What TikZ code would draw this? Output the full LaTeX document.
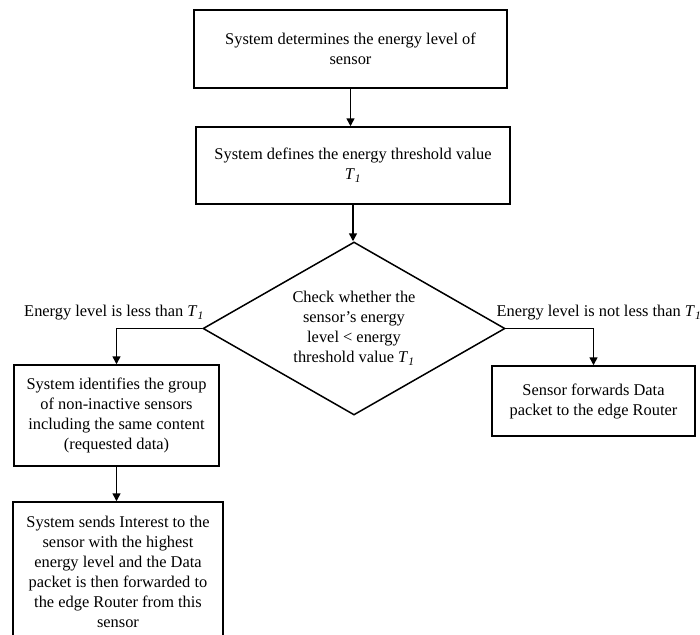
\documentclass[tikz,border=0pt]{standalone}
\usepackage{fontspec}
\setmainfont{Liberation Serif}
\usetikzlibrary{shapes.geometric,arrows.meta}
\newcommand{\Tone}{\textit{T}\textsubscript{\textit{1}}}
\tikzset{
  box/.style={draw, line width=1.5pt, rectangle, inner sep=0pt, align=center,
    font=\fontsize{16.4}{20}\selectfont},
  dec/.style={draw, line width=1.5pt, diamond, inner sep=0pt, aspect=1.75,
    align=center, font=\fontsize{16.4}{20}\selectfont},
  lab/.style={inner sep=0pt, font=\fontsize{16.4}{20}\selectfont},
  conn/.style={line width=1.5pt, -{Triangle[length=8pt,width=8pt]}}
}
\begin{document}
\begin{tikzpicture}[x=1pt,y=-1pt]
\useasboundingbox (0,0) rectangle (700,634);
\clip (0,0) rectangle (700,634);
\node[box, minimum width=313pt, minimum height=78pt] (b1) at (350.5,49)
  {System determines the energy level of\\sensor};
\node[box, minimum width=314pt, minimum height=77pt] (b2) at (353,165.5)
  {System defines the energy threshold value\\\Tone};
\node[dec, minimum width=302pt, minimum height=173pt] (d) at (354,328.5)
  {Check whether the\\sensor’s energy\\level < energy\\threshold value \Tone};
\node[box, minimum width=205pt, minimum height=101pt] (b3) at (116.5,415.5)
  {System identifies the group\\of non-inactive sensors\\including the same content\\(requested data)};
\node[box, minimum width=210pt, minimum height=140pt] (b4) at (118,572)
  {System sends Interest to the\\sensor with the highest\\energy level and the Data\\packet is then forwarded to\\the edge Router from this\\sensor};
\node[box, minimum width=203pt, minimum height=70pt] (b5) at (593.5,401)
  {Sensor forwards Data\\packet to the edge Router};
\node[lab] (l1) at (114,313) {Energy level is less than \Tone};
\node[lab] (l2) at (599,313) {Energy level is not less than \Tone};
\draw[conn] (b1.south) -- (b1.south |- b2.north);
\draw[conn] (b2.south) -- (b2.south |- d.north);
\draw[conn] (d.west) -| (b3.north);
\draw[conn] (d.east) -| (b5.north);
\draw[conn] (b3.south) -- (b3.south |- b4.north);
\end{tikzpicture}
\end{document}
